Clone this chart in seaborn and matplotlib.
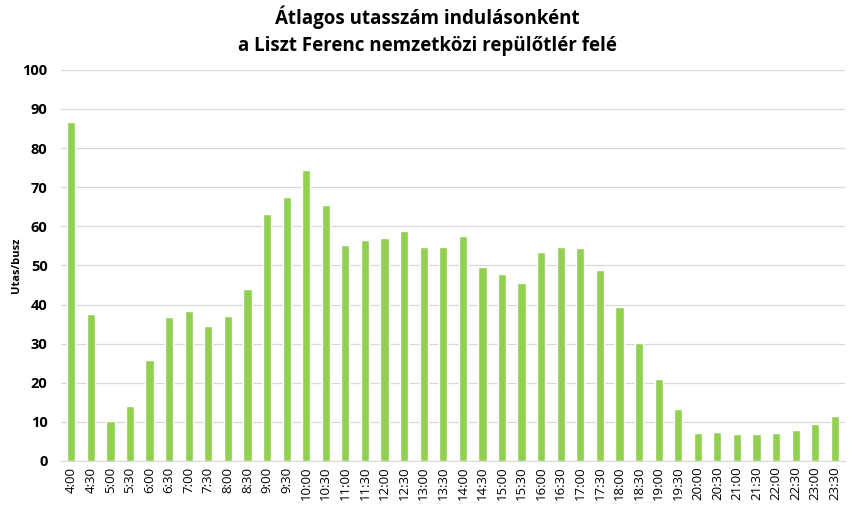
import matplotlib
matplotlib.use('Agg')
import matplotlib.pyplot as plt
import seaborn as sns
import pandas as pd

times = ['4:00', '4:30', '5:00', '5:30', '6:00', '6:30', '7:00', '7:30', '8:00', '8:30',
         '9:00', '9:30', '10:00', '10:30', '11:00', '11:30', '12:00', '12:30', '13:00', '13:30',
         '14:00', '14:30', '15:00', '15:30', '16:00', '16:30', '17:00', '17:30', '18:00', '18:30',
         '19:00', '19:30', '20:00', '20:30', '21:00', '21:30', '22:00', '22:30', '23:00', '23:30']
passengers = [86.7, 37.6, 10.2, 14.1, 25.8, 36.8, 38.4, 34.5, 37.1, 44.0,
              63.2, 67.5, 74.4, 65.5, 55.2, 56.5, 57.0, 58.8, 54.7, 54.7,
              57.5, 49.6, 47.8, 45.5, 53.5, 54.7, 54.5, 48.8, 39.4, 30.2,
              21.0, 13.3, 7.2, 7.4, 6.9, 6.9, 7.2, 7.9, 9.5, 11.5]
y_ticks = list(range(0, 101, 10))

sns.set_style('white')
plt.rcParams['font.family'] = ['Open Sans', 'DejaVu Sans']
plt.rcParams['text.color'] = 'black'
plt.rcParams['axes.labelcolor'] = 'black'
plt.rcParams['xtick.color'] = 'black'
plt.rcParams['ytick.color'] = 'black'

df = pd.DataFrame({'time': times, 'utas': passengers})

fig = plt.figure(figsize=(8.54, 5.25), dpi=100)
ax = fig.add_axes([0.072, 0.122, 0.917, 0.745])
sns.barplot(data=df, x='time', y='utas', color='#92D050', saturation=1, width=0.42, ax=ax)

ax.set_ylim(0, 100)
ax.set_xlim(-0.5, len(times) - 0.5)
ax.set_yticks(y_ticks)
ax.set_yticklabels([str(t) for t in y_ticks], fontweight='bold', fontsize=10.5)
ax.tick_params(axis='x', rotation=90, labelsize=9.5, length=0, pad=4)
ax.tick_params(axis='y', length=0, pad=10)
ax.grid(axis='y', color='#D9D9D9', linewidth=0.9)
ax.set_axisbelow(True)
for s in ['top', 'right', 'left']:
    ax.spines[s].set_visible(False)
ax.spines['bottom'].set_color('#D9D9D9')
ax.set_xlabel('')
ax.set_ylabel('Utas/busz', fontweight='bold', fontsize=8)
ax.yaxis.set_label_coords(-0.05, 0.5)

fig.suptitle('Átlagos utasszám indulásonként\na Liszt Ferenc nemzetközi repülőtlér felé',
             fontweight='bold', fontsize=13.5, y=0.989, linespacing=1.45)

plt.savefig('out.png', dpi=100)
plt.close()
